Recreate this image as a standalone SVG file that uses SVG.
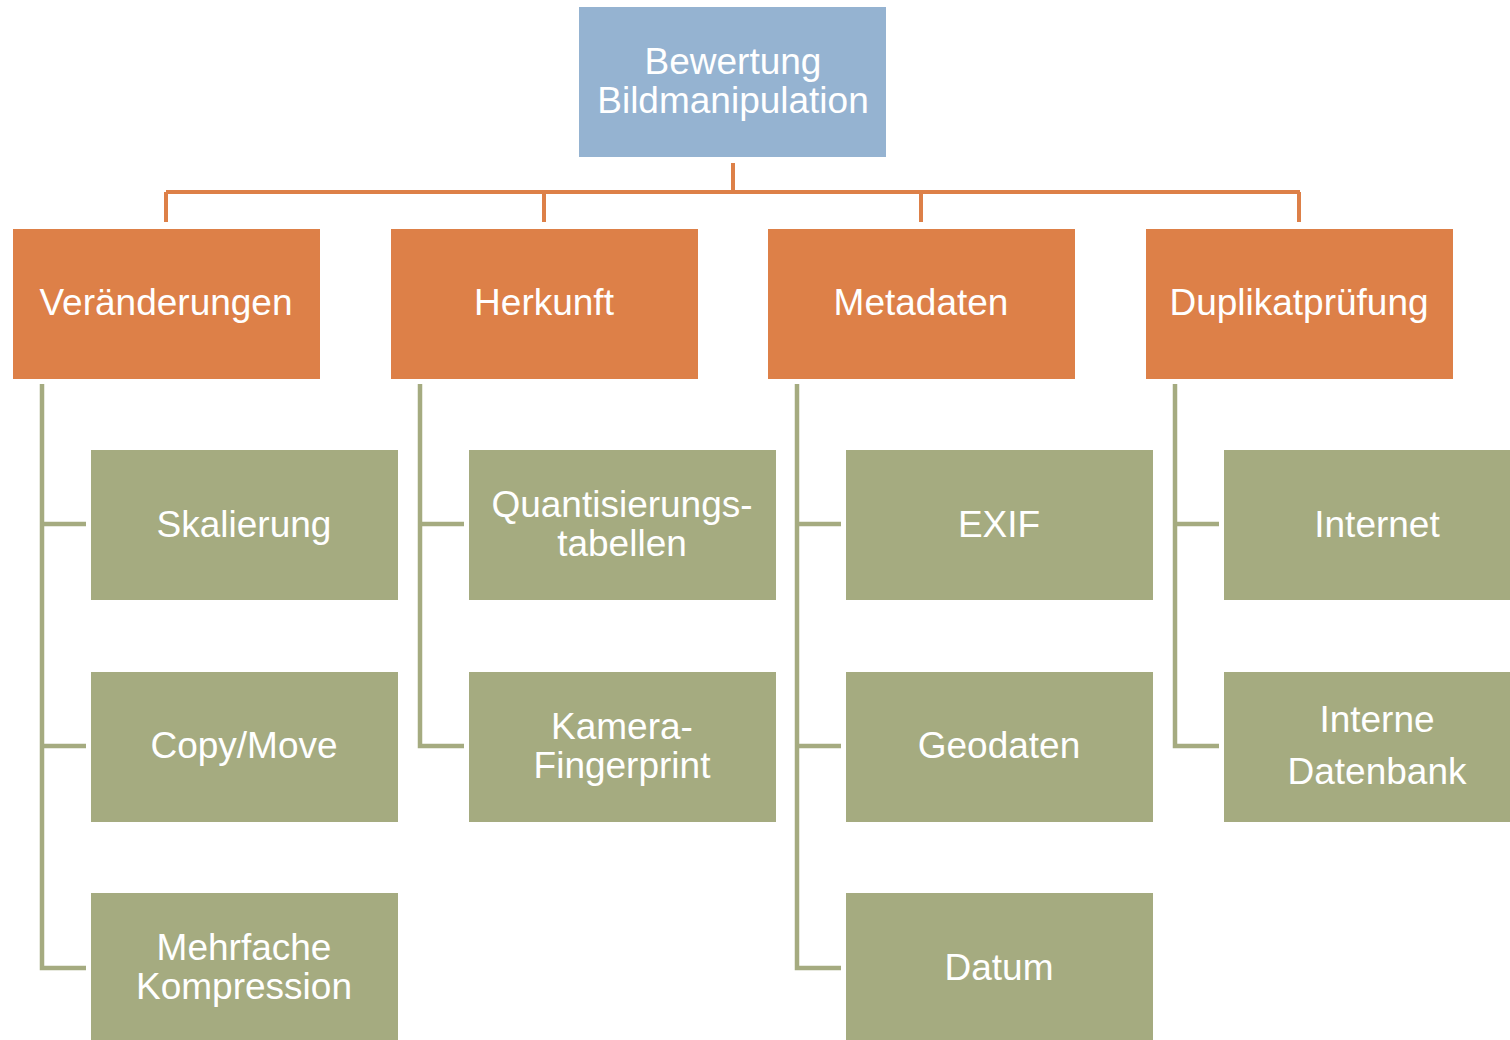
<svg xmlns="http://www.w3.org/2000/svg" width="1510" height="1040" viewBox="0 0 1510 1040">
<style>
.top{fill:#95B3D1}
.cat{fill:#DD8048}
.leaf{fill:#A5AB80}
text{font-family:"Liberation Sans",Arial,sans-serif;font-size:37px;fill:#FFFFFF;text-anchor:middle}
.oc{stroke:#DD8048;stroke-width:4;fill:none}
.gc{stroke:#A5AB80;stroke-width:4.5;fill:none}
</style>
<rect width="1510" height="1040" fill="#FFFFFF"/>
<g id="connectors">
<path class="oc" d="M733 163V192M166 192H1300M166 192V222M544 192V222M921 192V222M1299 192V222"/>
<path class="gc" d="M42 384V968H86M42 524H86M42 746H86"/>
<path class="gc" d="M420 384V746H464M420 524H464"/>
<path class="gc" d="M797 384V968H841M797 524H841M797 746H841"/>
<path class="gc" d="M1175 384V746H1219M1175 524H1219"/>
</g>
<g id="root"><rect class="top" x="579" y="7" width="307" height="150"/><text x="733" y="74">Bewertung</text><text x="733" y="113">Bildmanipulation</text></g>
<g id="veraenderungen"><rect class="cat" x="13" y="229" width="307" height="150"/><text x="166" y="315">Veränderungen</text></g>
<g id="herkunft"><rect class="cat" x="391" y="229" width="307" height="150"/><text x="544" y="315">Herkunft</text></g>
<g id="metadaten"><rect class="cat" x="768" y="229" width="307" height="150"/><text x="921" y="315">Metadaten</text></g>
<g id="duplikat"><rect class="cat" x="1146" y="229" width="307" height="150"/><text x="1299" y="315">Duplikatprüfung</text></g>
<g id="skalierung"><rect class="leaf" x="91" y="450" width="307" height="150"/><text x="244" y="537">Skalierung</text></g>
<g id="copymove"><rect class="leaf" x="91" y="672" width="307" height="150"/><text x="244" y="758">Copy/Move</text></g>
<g id="mehrfache"><rect class="leaf" x="91" y="893" width="307" height="150"/><text x="244" y="960">Mehrfache</text><text x="244" y="999">Kompression</text></g>
<g id="quant"><rect class="leaf" x="469" y="450" width="307" height="150"/><text x="622" y="517">Quantisierungs-</text><text x="622" y="556">tabellen</text></g>
<g id="kamera"><rect class="leaf" x="469" y="672" width="307" height="150"/><text x="622" y="739">Kamera-</text><text x="622" y="778">Fingerprint</text></g>
<g id="exif"><rect class="leaf" x="846" y="450" width="307" height="150"/><text x="999" y="537">EXIF</text></g>
<g id="geodaten"><rect class="leaf" x="846" y="672" width="307" height="150"/><text x="999" y="758">Geodaten</text></g>
<g id="datum"><rect class="leaf" x="846" y="893" width="307" height="150"/><text x="999" y="980">Datum</text></g>
<g id="internet"><rect class="leaf" x="1224" y="450" width="307" height="150"/><text x="1377" y="537">Internet</text></g>
<g id="datenbank"><rect class="leaf" x="1224" y="672" width="307" height="150"/><text x="1377" y="732">Interne</text><text x="1377" y="784">Datenbank</text></g>
</svg>
